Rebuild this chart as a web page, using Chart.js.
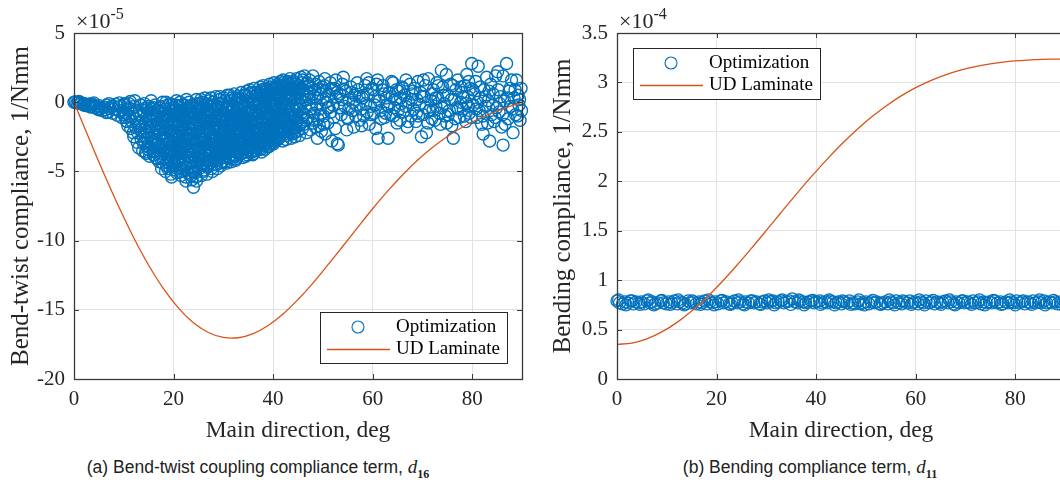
<!DOCTYPE html>
<html>
<head>
<meta charset="utf-8">
<script src="https://cdn.jsdelivr.net/npm/chart.js@4.4.0/dist/chart.umd.min.js"></script>
<style>
  html, body { margin: 0; padding: 0; background: #fff; width: 1060px; height: 484px; overflow: hidden; }
  #boxA { position: absolute; left: 0; top: 0; width: 540px; height: 450px; }
  #boxB { position: absolute; left: 540px; top: 0; width: 545px; height: 450px; }
  .cap { position: absolute; top: 456px; font-family: "Liberation Sans", Arial, sans-serif; font-size: 17.5px; color: #222; text-align: center; line-height: 22px; }
  .cap i { font-family: "Liberation Serif", serif; font-size: 19px; }
  .cap sub { font-family: "Liberation Serif", serif; font-size: 12px; font-weight: bold; }
</style>
</head>
<body>
<div id="boxA"><canvas id="chartA" width="540" height="450"></canvas></div>
<div id="boxB"><canvas id="chartB" width="545" height="450"></canvas></div>
<div class="cap" style="left:0;width:516px">(a) Bend-twist coupling compliance term, <i>d</i><sub>16</sub></div>
<div class="cap" style="left:540px;width:540px">(b) Bending compliance term, <i>d</i><sub>11</sub></div>

<script>
// Eixos
const angleTicks = [0, 20, 40, 60, 80];
const d16Ticks = [-20, -15, -10, -5, 0, 5];          // x 1e-5
const d11Ticks = [0, 0.5, 1, 1.5, 2, 2.5, 3, 3.5];   // x 1e-4

// Curvas do laminado UD
const udAngle = [0, 3, 6, 9, 12, 15, 18, 21, 24, 27, 30, 33, 36, 39, 42, 45,
  48, 51, 54, 57, 60, 63, 66, 69, 72, 75, 78, 81, 84, 87, 90];
const udD16 = [0, -2.61, -5.15, -7.56, -9.79, -11.78, -13.49, -14.88, -15.94, -16.64, -17.0, -17.02, -16.72, -16.13, -15.3, -14.26,
  -13.07, -11.76, -10.41, -9.04, -7.7, -6.43, -5.26, -4.2, -3.28, -2.48, -1.81, -1.25, -0.78, -0.37, 0];
const udD11 = [0.35, 0.364, 0.406, 0.476, 0.57, 0.687, 0.825, 0.979, 1.146, 1.322, 1.503, 1.687, 1.868, 2.044, 2.212, 2.369,
  2.514, 2.645, 2.76, 2.861, 2.947, 3.019, 3.077, 3.124, 3.16, 3.188, 3.208, 3.221, 3.23, 3.235, 3.237];

// Pontos da otimizacao, d16 [angulo, valor]
const d16Opt = [
  [0,0],[0.3,0.02],[0.6,-0.05],[0.9,0],[1.0,0.05],[1.2,-0.1],[1.5,-0.05],[1.8,-0.15],[2.0,-0.2],[2.1,-0.1],
  [2.4,-0.25],[2.7,-0.2],[3.0,-0.15],[3.3,-0.35],[3.5,-0.1],[3.6,-0.3],[3.9,-0.2],[4.0,-0.05],[4.2,-0.4],[4.5,-0.3],
  [4.8,-0.5],[5.0,-0.55],[5.1,-0.25],[5.4,-0.45],[5.7,-0.6],[6.0,-0.35],[6.3,-0.55],[6.5,-0.75],[6.6,-0.2],[6.9,-0.7],
  [7.0,-0.1],[7.2,-0.45],[7.5,-0.3],[7.8,-0.8],[8.0,-0.3],[8.1,-0.5],[8.4,-0.15],[8.7,-0.95],[9.0,-0.6],[9.1,-0.05],
  [9.3,-0.3],[9.6,-1.1],[9.9,-0.75],[10.0,-0.9],[10.2,-0.1],[10.5,-1.35],[10.8,-0.5],
  [10.1,-0.2],[10.4,-0.8],[10.6,-1.4],[10.9,-0.4],[10.3,-1.1],[10.8,-1.7],
  [11.0,-0.1],[11.2,-1.0],[11.4,-1.9],[11.5,-0.5],[11.7,-1.4],[11.9,-2.2],[11.3,0.05],[11.8,-0.8],
  [12.0,-2.5],[12.1,-0.3],[12.3,-1.2],[12.4,-1.8],[12.6,-0.6],[12.7,-2.9],[12.9,-1.5],[12.2,0.1],[12.8,-2.2],
  [13.0,-3.3],[13.1,-0.9],[13.3,-2.0],[13.4,-0.2],[13.5,-2.7],[13.6,-1.4],[13.8,-3.5],[13.9,-0.6],[13.2,-1.7],[13.7,-2.4],
  [14.0,-3.0],[14.1,-0.1],[14.2,-1.9],[14.4,-3.6],[14.5,-1.1],[14.6,-2.6],[14.8,-0.5],[14.9,-3.2],[14.3,-1.5],[14.7,-2.2],[14.5,-3.7],
  [15.0,-0.3],[15.1,-2.4],[15.2,-3.9],[15.4,-1.3],[15.5,-3.0],[15.6,-0.8],[15.7,-2.0],[15.9,-3.5],[15.3,-1.7],[15.8,-2.8],[15.5,0.1],
  [16.0,-3.8],[16.1,-1.0],[16.2,-2.5],[16.3,-0.2],[16.4,-3.3],[16.6,-1.6],[16.7,-4.1],[16.8,-2.1],[16.9,-0.6],[16.5,-2.9],[16.2,-3.6],[16.6,-1.2],
  [17.0,-3.0],[17.1,-4.3],[17.2,-0.4],[17.3,-2.3],[17.4,-1.3],[17.5,-3.7],[17.6,-4.8],[17.7,-0.9],[17.8,-2.7],[17.9,-1.8],[17.3,-4.0],[17.6,-3.2],[17.8,0.0],
  [18.0,-0.3],[18.1,-2.2],[18.2,-4.1],[18.3,-1.0],[18.4,-3.1],[18.5,0.0],[18.6,-4.6],[18.7,-1.7],[18.8,-2.7],[18.9,-3.6],[18.2,-0.7],[18.4,-5.0],[18.6,-1.4],[18.8,-3.9],[18.5,-2.5],[18.9,-0.2],
  [19.0,-4.4],[19.1,-1.2],[19.2,-2.9],[19.3,-0.1],[19.4,-3.5],[19.5,-5.2],[19.6,-2.0],[19.7,-0.6],[19.8,-4.0],[19.9,-2.6],[19.1,-3.3],[19.3,-4.8],[19.5,-1.5],[19.7,-3.0],[19.9,-0.9],[19.4,-2.3],[19.6,-5.4],
  [20.0,-0.4],[20.1,-3.8],[20.2,-2.1],[20.3,-4.9],[20.4,-1.0],[20.5,-3.1],[20.6,0.1],[20.7,-4.3],[20.8,-1.7],[20.9,-2.6],[20.2,-3.5],[20.4,-0.2],[20.6,-5.1],[20.8,-3.0],[20.1,-1.3],[20.5,-4.6],[20.9,-0.7],
  [21.0,-2.4],[21.1,-0.3],[21.2,-4.5],[21.3,-1.6],[21.4,-3.3],[21.5,-5.3],[21.6,-0.9],[21.7,-2.9],[21.8,-4.0],[21.9,-1.9],[21.1,-3.7],[21.3,0.0],[21.5,-2.1],[21.7,-4.8],[21.9,-1.2],[21.4,-5.0],[21.6,-3.0],[21.2,-1.0],
  [22.0,-4.2],[22.1,-1.4],[22.2,-0.2],[22.3,-3.2],[22.4,-5.4],[22.5,-2.3],[22.6,0.2],[22.7,-3.9],[22.8,-1.8],[22.9,-4.7],[22.1,-2.8],[22.3,-0.7],[22.5,-5.7],[22.7,-1.1],[22.9,-3.5],[22.2,-4.9],[22.6,-2.6],[22.4,-0.5],
  [23.0,-1.0],[23.1,-3.6],[23.2,-5.2],[23.3,-2.0],[23.4,-0.3],[23.5,-4.4],[23.6,-2.8],[23.7,-5.6],[23.8,-1.5],[23.9,-3.3],[23.1,0.0],[23.3,-4.0],[23.5,-1.9],[23.7,-3.0],[23.9,-5.0],[23.2,-2.4],[23.6,-0.8],[23.8,-4.7],
  [24.0,-6.15],[24.1,-2.1],[24.2,-0.4],[24.3,-4.3],[24.4,-3.0],[24.5,-5.4],[24.6,0.2],[24.7,-1.3],[24.8,-3.7],[24.9,-2.6],[24.1,-5.0],[24.3,-1.7],[24.5,-0.9],[24.7,-4.6],[24.9,-3.3],[24.2,-2.9],[24.6,-5.7],[24.8,-0.1],
  [25.0,-3.4],[25.1,-0.6],[25.2,-4.8],[25.3,-1.9],[25.4,-2.7],[25.5,0.2],[25.6,-5.3],[25.7,-3.9],[25.8,-1.2],[25.9,-4.4],[25.1,-2.3],[25.3,-0.1],[25.5,-3.1],[25.7,-1.6],[25.9,-5.0],[25.2,-3.6],[25.6,-0.4],[25.8,-2.5],
  [26.0,-1.4],[26.1,-4.9],[26.2,-2.9],[26.3,0.3],[26.4,-3.8],[26.5,-1.0],[26.6,-2.2],[26.7,-5.2],[26.8,-0.5],[26.9,-3.4],[26.1,-1.8],[26.3,-4.4],[26.5,-2.6],[26.7,-0.2],[26.9,-4.1],[26.2,-3.1],[26.6,-1.1],[26.8,-4.7],
  [27.0,-4.6],[27.1,-2.0],[27.2,0.1],[27.3,-3.5],[27.4,-1.3],[27.5,-2.8],[27.6,-4.2],[27.7,-0.6],[27.8,-5.0],[27.9,-1.9],[27.1,-3.9],[27.3,-0.9],[27.5,0.3],[27.7,-3.1],[27.9,-2.4],[27.2,-1.6],[27.6,-4.8],[27.4,-3.3],
  [28.0,-0.2],[28.1,-3.0],[28.2,-4.5],[28.3,-1.6],[28.4,-2.5],[28.5,0.4],[28.6,-3.8],[28.7,-1.0],[28.8,-4.8],[28.9,-2.1],[28.1,-0.7],[28.3,-3.4],[28.5,-1.9],[28.7,-4.2],[28.9,-0.1],[28.2,-2.8],[28.6,-1.3],[28.4,-4.0],
  [29.0,-3.6],[29.1,-1.1],[29.2,0.2],[29.3,-2.4],[29.4,-4.4],[29.5,-1.7],[29.6,-3.0],[29.7,-0.4],[29.8,-4.0],[29.9,-2.0],[29.1,-3.3],[29.3,0.4],[29.5,-4.6],[29.7,-2.7],[29.9,-0.9],[29.2,-1.4],[29.6,-3.8],[29.4,-0.6],
  [30.0,-2.2],[30.1,0.3],[30.2,-3.7],[30.3,-1.2],[30.4,-4.3],[30.5,-0.5],[30.6,-2.9],[30.7,-1.8],[30.8,0.5],[30.9,-3.4],[30.1,-4.0],[30.3,-2.5],[30.5,-1.5],[30.7,-4.4],[30.9,-0.2],[30.2,-3.1],[30.6,-0.9],[30.8,-2.0],
  [31.0,-0.7],[31.1,-3.9],[31.2,-2.0],[31.3,0.5],[31.4,-3.2],[31.5,-1.3],[31.6,-4.3],[31.7,-2.6],[31.8,-0.3],[31.9,-1.7],[31.1,-2.9],[31.3,-4.0],[31.5,0.1],[31.7,-3.5],[31.9,-1.0],[31.2,-2.3],[31.6,-0.6],[31.4,-1.9],
  [32.0,-3.1],[32.1,-1.5],[32.2,0.6],[32.3,-2.4],[32.4,-4.1],[32.5,-0.8],[32.6,-3.6],[32.7,-1.9],[32.8,0.2],[32.9,-2.8],[32.1,-0.3],[32.3,-3.3],[32.5,-4.2],[32.7,-1.1],[32.9,-2.1],[32.2,-3.8],[32.6,-0.1],[32.8,-1.4],
  [33.0,0.4],[33.1,-2.7],[33.2,-1.2],[33.3,-3.8],[33.4,-0.5],[33.5,-2.0],[33.6,0.7],[33.7,-3.3],[33.8,-1.6],[33.9,-4.0],[33.1,-0.9],[33.3,-2.3],[33.5,-3.0],[33.7,0.0],[33.9,-1.8],[33.2,-3.6],[33.6,-2.6],[33.4,-1.4],
  [34.0,-1.9],[34.1,0.5],[34.2,-3.4],[34.3,-0.7],[34.4,-2.6],[34.5,-3.9],[34.6,-1.3],[34.7,0.8],[34.8,-2.2],[34.9,-3.1],[34.1,-1.0],[34.3,-2.9],[34.5,0.1],[34.7,-3.6],[34.9,-0.4],[34.2,-1.6],[34.6,-2.4],[34.8,-3.8],
  [35.0,-3.5],[35.1,-0.2],[35.2,-2.1],[35.3,0.9],[35.4,-1.5],[35.5,-3.0],[35.6,-0.8],[35.7,-2.5],[35.8,0.4],[35.9,-3.8],[35.1,-1.8],[35.3,-2.8],[35.5,-0.5],[35.7,-3.3],[35.9,-1.2],[35.2,0.6],[35.6,-2.0],[35.4,-3.6],
  [36.0,-0.6],[36.1,-2.9],[36.2,1.0],[36.3,-1.8],[36.4,-3.5],[36.5,-0.2],[36.6,-2.3],[36.7,0.5],[36.8,-3.1],[36.9,-1.2],[36.1,-3.7],[36.3,-0.9],[36.5,-2.6],[36.7,-1.5],[36.9,0.2],[36.2,-2.0],[36.6,-3.3],[36.8,-0.4],
  [37.0,-2.2],[37.1,0.7],[37.2,-3.2],[37.3,-1.0],[37.4,1.1],[37.5,-2.7],[37.6,-0.4],[37.7,-3.6],[37.8,-1.6],[37.9,0.3],[37.1,-1.9],[37.3,-3.0],[37.5,0.0],[37.7,-2.4],[37.9,-1.3],[37.2,-0.7],[37.6,-3.4],[37.8,0.9],
  [38.0,1.2],[38.1,-1.5],[38.2,-2.8],[38.3,0.2],[38.4,-3.4],[38.5,-0.8],[38.6,-2.1],[38.7,0.8],[38.8,-3.0],[38.9,-1.1],[38.1,-0.3],[38.3,-2.5],[38.5,1.0],[38.7,-1.8],[38.9,-3.2],[38.2,0.5],[38.6,-1.3],[38.4,-2.2],
  [39.0,-2.6],[39.1,0.4],[39.2,-1.2],[39.3,1.3],[39.4,-3.1],[39.5,-0.5],[39.6,-2.0],[39.7,0.9],[39.8,-1.6],[39.9,-2.9],[39.1,-0.1],[39.3,-2.3],[39.5,1.1],[39.7,-1.0],[39.9,0.1],[39.2,-3.2],[39.6,0.6],[39.8,-2.4],
  [40.0,0.0],[40.1,-2.3],[40.2,1.4],[40.3,-1.4],[40.4,-0.6],[40.5,-2.8],[40.6,0.7],[40.7,-1.9],[40.8,1.1],[40.9,-0.9],[40.1,-3.0],[40.3,0.3],[40.5,-1.2],[40.7,-2.5],[40.9,1.3],[40.2,-1.7],[40.6,-0.2],[40.8,-2.1],
  [41.0,-1.5],[41.1,1.0],[41.2,-2.6],[41.3,0.2],[41.4,-0.8],[41.5,1.5],[41.6,-2.0],[41.7,-0.3],[41.8,0.8],[41.9,-2.8],[41.1,-1.1],[41.3,-2.2],[41.5,0.5],[41.7,-1.7],[41.9,1.2],[41.2,-0.5],[41.6,0.0],[41.8,-1.4],
  [42.0,1.6],[42.1,-0.4],[42.2,-2.3],[42.3,0.6],[42.4,-1.3],[42.5,1.2],[42.6,-2.7],[42.7,-0.1],[42.8,-1.8],[42.9,0.9],[42.2,-0.9],[42.4,0.3],[42.6,-1.5],[42.8,1.4],[42.5,-2.1],
  [43.0,-0.7],[43.1,1.3],[43.2,-2.0],[43.3,0.1],[43.4,1.7],[43.5,-1.1],[43.6,-2.6],[43.7,0.6],[43.8,-1.6],[43.9,1.0],[43.2,-0.3],[43.6,0.9],[43.8,-2.3],[43.4,-1.4],
  [44.0,0.4],[44.1,-1.9],[44.2,1.5],[44.3,-0.6],[44.4,-2.5],[44.5,0.9],[44.6,-1.2],[44.7,1.7],[44.8,-0.2],[44.9,-2.1],[44.3,1.1],[44.7,-1.5],[44.5,-0.9],
  [45.0,-1.3],[45.2,1.2],[45.3,-2.4],[45.5,0.3],[45.6,1.8],[45.8,-0.7],[45.9,-1.9],[45.1,0.7],[45.4,-0.2],[45.7,1.4],[45.9,0.0],
  [46.0,0.9],[46.2,-1.6],[46.3,1.9],[46.5,-0.4],[46.7,-2.2],[46.8,0.5],[46.1,-0.9],[46.9,1.4],
  [47.0,-1.1],[47.2,0.2],[47.3,1.6],[47.5,-2.0],[47.6,-0.5],[47.8,1.0],[47.9,-1.5],[47.4,0.7],
  [48.0,1.9],[48.2,-0.8],[48.3,0.4],[48.5,-1.8],[48.6,1.3],[48.8,-0.2],[48.9,-2.6],[48.4,0.9],
  [49.0,-1.2],[49.2,1.5],[49.4,-0.5],[49.5,0.6],[49.7,-2.1],[49.8,1.1],[49.3,-1.7],
  [50.0,0.2],[50.2,-1.0],[50.4,1.7],[50.5,-2.3],[50.7,0.8],[50.9,-0.4],[50.3,1.2],
  [51.0,-1.5],[51.3,0.5],[51.5,1.4],[51.6,-0.7],[51.8,-2.8],[51.9,0.9],
  [52.0,-0.2],[52.3,1.0],[52.5,-1.9],[52.7,0.4],[52.9,-3.0],[52.6,1.6],
  [53.1,-3.1],[53.4,0.6],[53.7,-0.9],[53.9,1.3],[54.1,1.8],[54.4,-0.3],[54.8,-2.0],[54.6,0.8],
  [55.0,-1.2],[55.3,0.2],[55.6,1.1],[55.9,-0.6],[56.2,-1.8],[56.4,0.5],[56.7,-0.2],[56.9,1.4],
  [57.4,-1.3],[57.1,0.9],[57.7,-0.5],[57.9,0.3],[58.2,-1.0],[58.5,1.2],[58.8,1.7],[58.6,-0.1],
  [59.0,0.6],[59.3,-1.6],[59.6,-0.3],[59.9,1.0],[60.2,-0.8],[60.5,0.4],[60.8,1.3],[60.6,-1.9],
  [61.1,-2.6],[61.3,0.1],[61.6,-0.6],[61.9,0.9],[62.1,1.2],[62.4,-1.1],[62.7,0.3],[62.9,-0.2],
  [63.1,-2.6],[63.3,0.7],[63.6,-0.9],[63.8,1.5],[64.1,1.4],[64.4,-0.4],[64.6,0.2],[64.9,-1.5],
  [65.2,0.8],[65.5,-1.3],[65.7,-0.1],[65.9,1.1],[66.2,-0.7],[66.4,0.5],[66.7,1.6],[66.9,-1.8],
  [67.2,0.0],[67.5,1.3],[67.7,-1.0],[67.9,0.6],[68.2,-0.5],[68.4,1.0],[68.7,-1.4],[68.9,0.2],
  [69.1,1.5],[69.4,-0.2],[69.8,-2.5],[69.6,0.7],[70.1,-0.9],[70.4,0.4],[70.8,-2.2],[70.6,1.2],
  [71.2,1.7],[71.4,-0.6],[71.7,0.1],[71.9,-1.2],[72.2,0.9],[72.5,-1.3],[72.7,-0.3],[72.9,1.4],
  [73.1,0.3],[73.4,-0.8],[73.8,2.3],[73.6,-1.6],[74.1,1.1],[74.4,-0.1],[74.8,2.0],[74.6,-1.0],
  [75.1,0.5],[75.4,-0.6],[75.7,1.3],[75.9,-1.7],[76.2,-2.6],[76.4,0.2],[76.7,0.9],[76.9,-0.4],
  [77.1,1.6],[77.4,-1.1],[77.7,0.0],[77.9,0.7],[78.2,-0.5],[78.5,1.2],[78.9,2.0],[78.7,-1.4],
  [79.1,0.4],[79.4,-0.8],[79.9,2.8],[79.6,1.0],[80.2,-0.2],[80.5,0.6],[80.9,-1.1],[80.7,1.5],
  [81.2,2.6],[81.4,-0.6],[81.7,0.3],[81.9,-1.6],[82.2,-2.3],[82.4,0.9],[82.7,-0.3],[82.9,1.8],
  [83.2,0.1],[83.5,-2.8],[83.7,1.3],[83.9,-0.9],[84.2,0.6],[84.4,-1.4],[84.7,1.9],[84.9,-0.4],
  [85.1,2.2],[85.4,-0.7],[85.7,0.4],[85.9,-1.8],[86.2,-3.1],[86.2,1.9],[86.5,0.1],[86.9,2.8],
  [87.2,-1.2],[87.4,0.8],[87.7,-0.3],[87.9,1.6],[88.2,-2.2],[88.4,0.3],[88.7,-0.9],[88.9,1.6],
  [89.2,0.5],[89.4,-0.2],[89.6,-1.3],[89.8,1.0],[89.9,-0.6],
  [78.4,-1.0],[79.2,-0.3],[80.1,0.9],[80.8,-0.5],[81.1,0.0],[81.6,1.1],[82.1,-1.0],[82.6,0.4],[83.1,-1.5],[83.4,0.8],
  [84.1,-0.2],[84.6,-1.1],[85.2,0.9],[85.5,-0.1],[86.1,-0.9],[86.6,-1.6],[87.1,0.3],[87.6,1.0],[88.1,-0.5],[88.6,0.9],
  [89.1,-1.0],[89.5,0.2],
  // segunda passada, nucleo denso
  [14.05,-0.8],[14.25,-2.9],[14.45,-0.4],[14.65,-1.8],[14.85,-3.4],[14.95,-1.2],
  [15.05,-1.0],[15.25,-3.3],[15.45,-0.5],[15.65,-2.6],[15.85,-1.4],[15.95,-3.8],
  [16.05,-0.4],[16.25,-1.9],[16.45,-4.0],[16.65,-0.9],[16.85,-3.0],[16.95,-1.5],[16.35,-2.7],
  [17.05,-0.7],[17.25,-2.0],[17.45,-3.4],[17.65,-1.1],[17.85,-4.4],[17.95,-2.5],[17.15,-1.6],
  [18.05,-1.5],[18.15,-3.3],[18.35,-0.5],[18.45,-2.0],[18.65,-4.3],[18.75,-0.9],[18.95,-2.9],[18.55,-3.7],[18.25,-1.2],[18.85,-4.8],
  [19.05,-0.5],[19.15,-2.1],[19.35,-3.8],[19.45,-1.0],[19.55,-4.2],[19.65,-0.2],[19.75,-2.4],[19.85,-4.6],[19.95,-1.6],[19.25,-3.0],
  [20.05,-2.9],[20.15,-0.9],[20.25,-4.4],[20.35,-1.6],[20.45,-3.3],[20.55,-0.5],[20.65,-2.4],[20.75,-4.0],[20.85,-1.1],[20.95,-3.6],
  [21.05,-1.4],[21.15,-4.2],[21.25,-2.6],[21.35,-0.6],[21.45,-3.6],[21.55,-1.8],[21.65,-4.5],[21.75,-0.2],[21.85,-2.7],[21.95,-3.3],
  [22.05,-0.9],[22.15,-3.7],[22.25,-2.0],[22.35,-4.4],[22.45,-1.3],[22.55,-3.0],[22.65,-0.4],[22.75,-5.1],[22.85,-2.4],[22.95,-1.6],
  [23.05,-2.7],[23.15,-0.6],[23.25,-4.3],[23.35,-1.2],[23.45,-3.4],[23.55,-5.3],[23.65,-2.0],[23.75,-0.2],[23.85,-3.8],[23.95,-1.4],
  [24.05,-0.7],[24.15,-3.5],[24.25,-1.5],[24.35,-5.1],[24.45,-2.3],[24.55,-4.0],[24.65,-0.3],[24.75,-2.8],[24.85,-4.4],[24.95,-1.1],
  [25.05,-1.5],[25.15,-4.1],[25.25,-0.3],[25.35,-2.9],[25.45,-4.6],[25.55,-1.0],[25.65,-2.1],[25.75,-3.3],[25.85,0.0],[25.95,-2.7],
  [26.05,-3.6],[26.15,-0.8],[26.25,-2.4],[26.35,-4.1],[26.45,-0.1],[26.55,-3.0],[26.65,-1.5],[26.75,-4.5],[26.85,-2.0],[26.95,-0.6],
  [27.05,-1.1],[27.15,-3.0],[27.25,-4.4],[27.35,-0.3],[27.45,-2.2],[27.55,-3.7],[27.65,-1.4],[27.75,-2.6],[27.85,-4.1],[27.95,0.0],
  [28.05,-2.4],[28.15,-4.1],[28.25,-0.5],[28.35,-2.0],[28.45,-3.6],[28.55,-1.1],[28.65,-4.5],[28.75,-0.3],[28.85,-3.1],[28.95,-1.6],
  [29.05,-0.3],[29.15,-2.7],[29.25,-4.1],[29.35,-1.0],[29.45,-3.4],[29.55,-0.1],[29.65,-2.2],[29.75,-4.3],[29.85,-1.3],[29.95,-3.0],
  [30.05,-1.5],[30.15,-3.3],[30.25,0.1],[30.35,-2.1],[30.45,-3.9],[30.55,-1.1],[30.65,-2.6],[30.75,-0.4],[30.85,-3.7],[30.95,-1.8],
  [31.05,-2.4],[31.15,-0.1],[31.25,-3.6],[31.35,-1.5],[31.45,-2.7],[31.55,-4.1],[31.65,-1.2],[31.75,0.3],[31.85,-3.0],[31.95,-2.1],
  [32.05,-0.6],[32.15,-2.6],[32.25,-1.0],[32.35,-3.9],[32.45,0.3],[32.55,-2.0],[32.65,-3.1],[32.75,-0.5],[32.85,-3.5],[32.95,-1.7],
  [33.05,-1.5],[33.15,-3.3],[33.25,0.2],[33.35,-2.8],[33.45,-1.0],[33.55,-3.7],[33.65,-0.3],[33.75,-2.1],[33.85,-1.1],[33.95,-3.0],
  [34.05,-2.7],[34.15,-0.2],[34.25,-1.3],[34.35,-3.6],[34.45,0.5],[34.55,-2.0],[34.65,-3.1],[34.75,-0.8],[34.85,-1.5],[34.95,-2.5],
  [35.05,-0.9],[35.15,-2.6],[35.25,-3.2],[35.35,-0.4],[35.45,-2.3],[35.55,0.7],[35.65,-1.4],[35.75,-3.6],[35.85,-1.9],[35.95,0.1],
  [36.05,-1.6],[36.15,-0.1],[36.25,-3.0],[36.35,0.7],[36.45,-1.4],[36.55,-3.5],[36.65,-0.7],[36.75,-2.1],[36.85,-2.8],[36.95,-1.0],
  [37.05,-0.1],[37.15,-2.6],[37.25,-1.4],[37.35,0.5],[37.45,-3.3],[37.55,-2.0],[37.65,0.8],[37.75,-1.1],[37.85,-2.9],[37.95,-0.5],
  [38.05,-2.0],[38.15,0.7],[38.25,-1.0],[38.35,-3.0],[38.45,-0.4],[38.55,-2.6],[38.65,0.1],[38.75,-1.5],[38.85,0.9],[38.95,-2.3],
  [39.05,-1.4],[39.15,-2.8],[39.25,0.7],[39.35,-0.8],[39.45,-2.1],[39.55,0.3],[39.65,-2.7],[39.75,-0.3],[39.85,1.0],[39.95,-1.8],
  [40.05,-1.0],[40.15,0.6],[40.25,-2.6],[40.35,-0.3],[40.45,1.0],[40.55,-1.6],[40.65,-2.2],[40.75,0.4],[40.85,-0.6],[40.95,-2.7],
  [41.05,0.4],[41.15,-1.8],[41.25,1.2],[41.35,-1.3],[41.45,-2.4],[41.55,-0.6],[41.65,0.9],[41.75,-2.1],[41.85,-0.1],[41.95,1.4],
  [42.05,-1.2],[42.15,0.8],[42.25,-2.0],[42.35,-0.6],[42.45,1.0],[42.55,-1.7],[42.65,0.2],[42.75,-2.4],[42.85,-0.3],[42.95,1.5],
  [43.05,0.4],[43.15,-1.7],[43.25,1.0],[43.35,-0.9],[43.45,-2.2],[43.55,0.3],[43.65,-1.2],[43.75,1.4],[43.85,-0.5],[43.95,-1.9],
  [44.05,-1.1],[44.15,0.8],[44.25,-2.2],[44.35,0.2],[44.45,1.3],[44.55,-1.8],[44.65,-0.4],[44.75,0.6],[44.85,-1.4],[44.95,1.1],
  [45.05,-0.5],[45.25,-1.7],[45.45,1.0],[45.65,-1.1],[45.85,0.6],[45.95,1.6],
  [46.4,0.2],[46.6,-1.3],[47.1,1.2],[47.7,-0.2],[48.1,-1.3],[48.7,0.3],[49.1,0.9],[49.6,-0.9],[50.1,-1.6],[50.6,0.0],
  [51.2,-0.4],[51.7,1.0],[52.2,-1.1],[52.8,0.7],
  [53.3,-0.4],[53.8,0.2],[54.3,0.9],[54.9,-1.1],[55.2,-0.5],[55.8,0.7],[56.1,0.0],[56.6,-1.0],[57.3,0.4],[57.8,-1.7],
  [58.1,0.5],[58.9,-0.7],[59.2,1.4],[59.8,-0.9],[60.1,0.9],[60.4,-0.2],[61.0,1.6],[61.7,-1.2],[62.3,0.6],[62.6,-0.8],
  [63.2,-0.3],[63.9,0.4],[64.2,-1.0],[64.8,0.9],[65.1,-0.6],[65.6,0.3],[66.1,1.0],[66.6,-0.3],[67.1,-1.4],[67.8,0.2],
  [68.1,0.8],[68.8,-0.8],[69.2,-1.0],[69.9,0.4],[70.2,1.6],[70.7,-0.4],[71.1,-1.5],[71.8,0.6],[72.1,-0.6],[72.6,0.3],
  [73.2,1.2],[73.9,-0.4],[74.2,0.5],[74.9,-1.5],[75.2,-0.9],[75.8,0.2],[76.1,1.2],[76.6,-1.2],[77.2,-0.5],[77.8,1.1],
  [78.1,0.4],[78.8,-0.1],[79.3,1.5],[79.8,-1.1]
];

// Pontos da otimizacao, d11 [angulo, valor]
const d11Opt = [
  [0,0.79],[0.5,0.77],[1.1,0.76],[1.6,0.78],[2.2,0.77],[2.7,0.79],[3.3,0.76],[3.8,0.78],[4.4,0.77],[4.9,0.78],
  [5.5,0.76],[6.0,0.79],[6.6,0.77],[7.1,0.78],[7.7,0.76],[8.2,0.77],[8.8,0.79],[9.3,0.77],[9.9,0.76],[10.4,0.78],
  [11.0,0.77],[11.5,0.79],[12.1,0.76],[12.6,0.78],[13.2,0.77],[13.7,0.76],[14.3,0.79],[14.8,0.77],[15.4,0.78],[15.9,0.76],
  [16.5,0.78],[17.0,0.77],[17.6,0.79],[18.1,0.76],[18.7,0.78],[19.2,0.77],[19.8,0.78],[20.3,0.76],[20.9,0.79],[21.4,0.77],
  [22.0,0.78],[22.5,0.76],[23.1,0.77],[23.6,0.79],[24.2,0.77],[24.7,0.78],[25.3,0.76],[25.8,0.78],[26.4,0.77],[26.9,0.79],
  [27.5,0.77],[28.0,0.78],[28.6,0.76],[29.1,0.78],[29.7,0.79],[30.2,0.77],[30.8,0.78],[31.3,0.79],[31.9,0.77],[32.4,0.78],
  [33.0,0.79],[33.5,0.77],[34.1,0.78],[34.6,0.79],[35.2,0.81],[35.7,0.78],[36.3,0.77],[36.8,0.79],[37.4,0.78],[37.9,0.77],
  [38.5,0.78],[39.0,0.79],[39.6,0.77],[40.1,0.78],[40.7,0.79],[41.2,0.77],[41.8,0.78],[42.3,0.77],[42.9,0.79],[43.4,0.78],
  [44.0,0.77],[44.5,0.78],[45.1,0.76],[45.6,0.78],[46.2,0.77],[46.7,0.79],[47.3,0.77],[47.8,0.76],[48.4,0.78],[48.9,0.76],
  [49.5,0.77],[50.0,0.78],[50.6,0.76],[51.1,0.78],[51.7,0.77],[52.2,0.78],[52.8,0.76],[53.3,0.77],[53.9,0.78],[54.4,0.76],
  [55.0,0.78],[55.5,0.77],[56.1,0.79],[56.6,0.77],[57.2,0.76],[57.7,0.78],[58.3,0.77],[58.8,0.79],[59.4,0.77],[59.9,0.78],
  [60.5,0.76],[61.0,0.78],[61.6,0.77],[62.1,0.79],[62.7,0.77],[63.2,0.78],[63.8,0.76],[64.3,0.78],[64.9,0.77],[65.4,0.78],
  [66.0,0.79],[66.5,0.77],[67.1,0.78],[67.6,0.76],[68.2,0.78],[68.7,0.77],[69.3,0.79],[69.8,0.77],[70.4,0.78],[70.9,0.77],
  [71.5,0.79],[72.0,0.77],[72.6,0.78],[73.1,0.76],[73.7,0.78],[74.2,0.77],[74.8,0.78],[75.3,0.77],[75.9,0.79],[76.4,0.77],
  [77.0,0.78],[77.5,0.76],[78.1,0.78],[78.6,0.77],[79.2,0.78],[79.7,0.77],[80.3,0.79],[80.8,0.77],[81.4,0.78],[81.9,0.76],
  [82.5,0.78],[83.0,0.77],[83.6,0.79],[84.1,0.77],[84.7,0.78],[85.2,0.77],[85.8,0.79],[86.3,0.77],[86.9,0.78],[87.4,0.77],
  [88.0,0.78],[88.5,0.76],[89.1,0.78],[89.6,0.77],[90.0,0.78],
  [0.3,0.80],[1.8,0.75],[3.0,0.79],[4.6,0.755],[6.3,0.80],[7.4,0.75],[9.0,0.795],[10.7,0.755],[12.3,0.80],[13.5,0.75],
  [15.1,0.79],[16.8,0.755],[18.4,0.80],[19.5,0.75],[21.1,0.795],[22.8,0.755],[24.4,0.80],[25.6,0.75],[27.2,0.79],[28.9,0.755],
  [30.5,0.80],[31.6,0.75],[33.2,0.80],[34.9,0.755],[36.5,0.80],[37.6,0.75],[39.3,0.795],[40.9,0.755],[42.6,0.80],[43.7,0.75],
  [45.3,0.79],[47.0,0.755],[48.6,0.80],[49.7,0.75],[51.4,0.795],[53.0,0.755],[54.7,0.80],[55.8,0.75],[57.4,0.79],[59.1,0.755],
  [60.7,0.80],[61.8,0.75],[63.5,0.795],[65.1,0.755],[66.8,0.80],[67.9,0.75],[69.5,0.79],[71.2,0.755],[72.8,0.80],[73.9,0.75],
  [75.6,0.795],[77.2,0.755],[78.9,0.80],[80.0,0.75],[81.6,0.79],[83.3,0.755],[84.9,0.80],[86.0,0.75],[87.7,0.795],[89.3,0.755]
];

const BLUE = '#0072BD';
const ORANGE = '#D95319';
const INK = '#262626';

Chart.defaults.font.family = '"Liberation Serif", "Times New Roman", serif';
Chart.defaults.color = INK;
Chart.defaults.animation = false;

// Caixa estilo Matlab: moldura, ticks para dentro, expoente e legenda
const matlabBox = {
  id: 'matlabBox',
  afterDraw(chart, args, opts) {
    const { ctx, chartArea: a, scales: { x, y } } = chart;
    ctx.save();
    ctx.strokeStyle = '#3a3a3a';
    ctx.lineWidth = 1;
    ctx.beginPath();
    x.ticks.forEach(t => {
      const px = Math.round(x.getPixelForValue(t.value)) + 0.5;
      ctx.moveTo(px, a.bottom); ctx.lineTo(px, a.bottom - 5);
      ctx.moveTo(px, a.top); ctx.lineTo(px, a.top + 5);
    });
    y.ticks.forEach(t => {
      const py = Math.round(y.getPixelForValue(t.value)) + 0.5;
      ctx.moveTo(a.left, py); ctx.lineTo(a.left + 5, py);
      ctx.moveTo(a.right, py); ctx.lineTo(a.right - 5, py);
    });
    ctx.stroke();
    ctx.lineWidth = 1.3;
    ctx.strokeRect(a.left + 0.5, a.top + 0.5, a.right - a.left, a.bottom - a.top);

    // expoente
    ctx.fillStyle = INK;
    ctx.textAlign = 'left';
    ctx.textBaseline = 'alphabetic';
    ctx.font = '22px "Liberation Serif"';
    ctx.fillText('×10', a.left + 2, a.top - 5);
    const w = ctx.measureText('×10').width;
    ctx.font = '16px "Liberation Serif"';
    ctx.fillText(opts.exponent, a.left + 2 + w, a.top - 14);

    // legenda
    const L = opts.legend;
    const lx = L.fromRight ? a.right - L.dx - L.w : a.left + L.dx;
    const ly = L.fromBottom ? a.bottom - L.dy - L.h : a.top + L.dy;
    ctx.fillStyle = '#fff';
    ctx.fillRect(lx, ly, L.w, L.h);
    ctx.strokeStyle = INK;
    ctx.lineWidth = 1;
    ctx.strokeRect(lx + 0.5, ly + 0.5, L.w, L.h);
    const sc = chart.data.datasets[0];
    const ln = chart.data.datasets[1];
    ctx.beginPath();
    ctx.arc(lx + 38, ly + 15, sc.pointRadius, 0, 2 * Math.PI);
    ctx.strokeStyle = sc.borderColor;
    ctx.lineWidth = 1.1;
    ctx.stroke();
    ctx.beginPath();
    ctx.moveTo(lx + 7, ly + 37.5);
    ctx.lineTo(lx + 70, ly + 37.5);
    ctx.strokeStyle = ln.borderColor;
    ctx.lineWidth = ln.borderWidth;
    ctx.stroke();
    ctx.fillStyle = '#000';
    ctx.font = '19px "Liberation Serif"';
    ctx.textBaseline = 'middle';
    ctx.fillText(sc.label, lx + 76, ly + 15);
    ctx.fillText(ln.label, lx + 76, ly + 37.5);
    ctx.restore();
  }
};

function makeScales(yMin, yMax, yTicks, yTitle, yWidth, titlePad) {
  return {
    x: {
      type: 'linear', min: 0, max: 90,
      afterBuildTicks: s => { s.ticks = angleTicks.map(v => ({ value: v })); },
      afterFit: s => { s.height = 71; },
      grid: { color: '#e2e2e2', drawTicks: false },
      border: { display: false },
      ticks: { font: { size: 21 }, padding: 8, color: INK, callback: v => String(v) },
      title: { display: true, text: 'Main direction, deg', color: INK, font: { size: 23.5 }, padding: { top: 0, bottom: 5 } }
    },
    y: {
      type: 'linear', min: yMin, max: yMax,
      afterBuildTicks: s => { s.ticks = yTicks.map(v => ({ value: v })); },
      afterFit: s => { s.width = yWidth; },
      grid: { color: '#e2e2e2', drawTicks: false },
      border: { display: false },
      ticks: { font: { size: 21 }, padding: 9, color: INK, callback: v => String(v) },
      title: { display: true, text: yTitle, color: INK, font: { size: 25 }, padding: { top: titlePad, bottom: 0 } }
    }
  };
}

function makeChart(id, optPts, curve, scales, right, ptWidth, plugOpts) {
  const ctx = document.getElementById(id).getContext('2d');
  return new Chart(ctx, {
    type: 'scatter',
    data: {
      datasets: [{
        label: 'Optimization',
        data: optPts.map(p => ({ x: p[0], y: p[1] })),
        borderColor: BLUE,
        backgroundColor: 'rgba(0,0,0,0)',
        pointRadius: 6,
        pointBorderWidth: ptWidth,
        pointBackgroundColor: 'rgba(0,0,0,0)',
        pointBorderColor: BLUE,
        clip: false,
        order: 1
      }, {
        label: 'UD Laminate',
        data: udAngle.map((a, i) => ({ x: a, y: curve[i] })),
        showLine: true,
        borderColor: ORANGE,
        borderWidth: 1.3,
        pointRadius: 0,
        tension: 0.4,
        order: 0
      }]
    },
    options: {
      responsive: false,
      animation: false,
      layout: { padding: { left: 0, right: right, top: 33, bottom: 0 } },
      plugins: { legend: { display: false }, tooltip: { enabled: false }, matlabBox: plugOpts },
      scales: scales
    },
    plugins: [matlabBox]
  });
}

makeChart('chartA', d16Opt, udD16,
  makeScales(-20, 5, d16Ticks, 'Bend-twist compliance, 1/Nmm', 74, 6), 18, 1.4,
  { exponent: '-5', legend: { fromRight: true, fromBottom: true, dx: 15, dy: 16, w: 187, h: 51 } });

makeChart('chartB', d11Opt, udD11,
  makeScales(0, 3.5, d11Ticks, 'Bending compliance, 1/Nmm', 77, 8), 20, 1.3,
  { exponent: '-4', legend: { fromRight: false, fromBottom: false, dx: 16, dy: 15, w: 187, h: 51 } });
</script>
</body>
</html>
